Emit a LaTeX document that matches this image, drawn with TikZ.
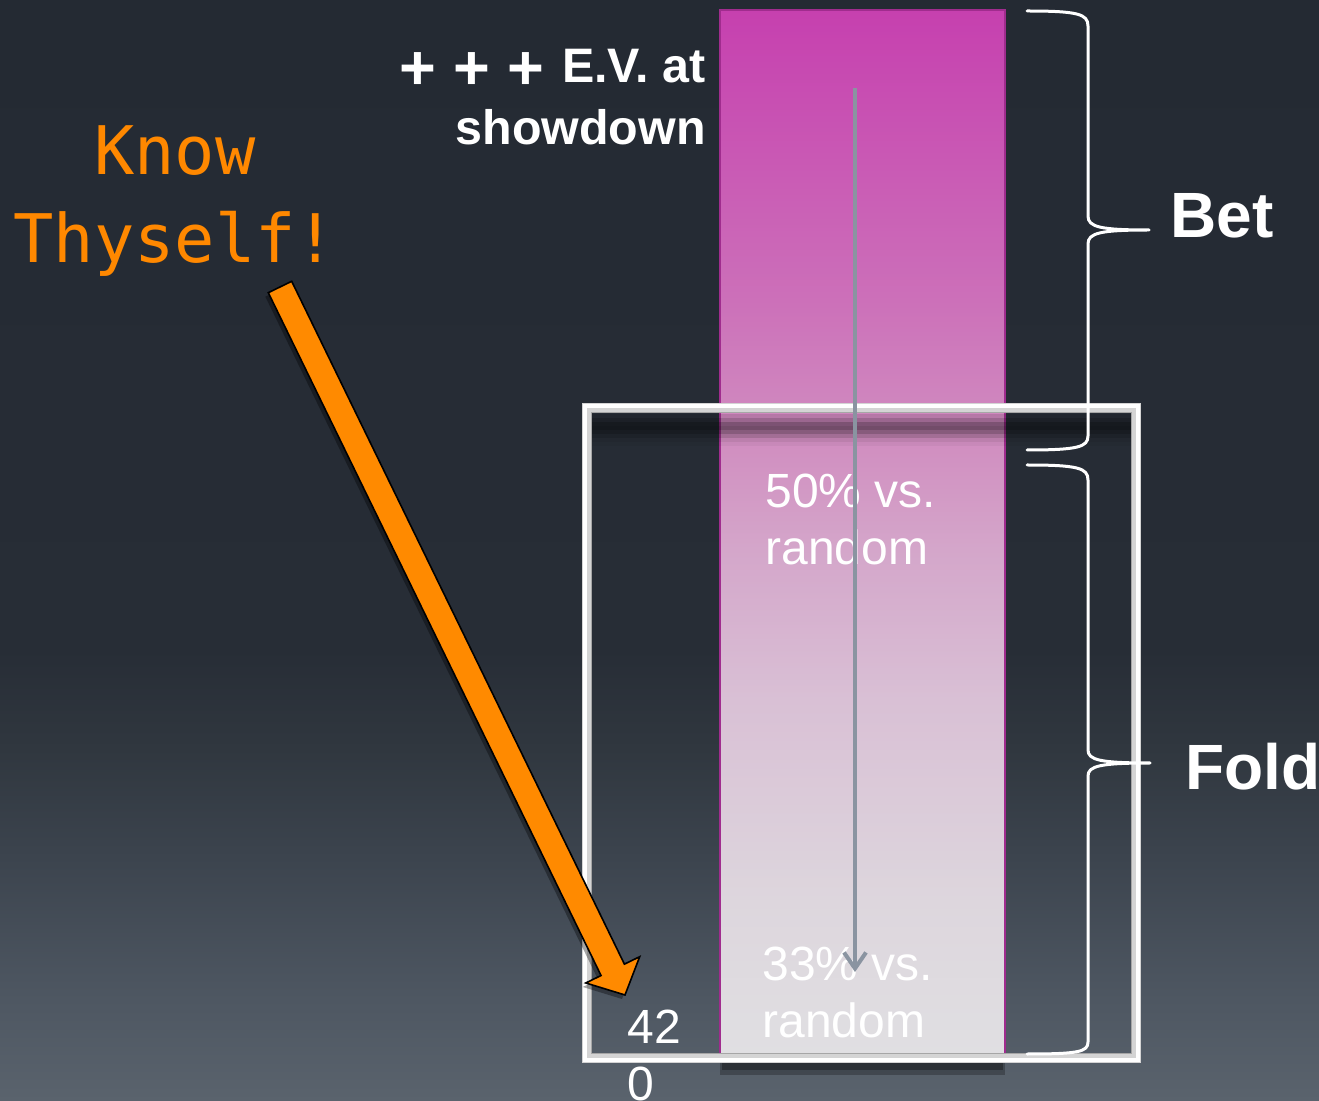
\documentclass[tikz,border=0pt]{standalone}
\usepackage{fontspec}
\setmainfont{Liberation Sans}
\newfontfamily\monofont{DejaVu Sans Mono}
\usetikzlibrary{arrows.meta,calc}
\definecolor{bgA}{HTML}{5A636D}
\definecolor{bgB}{HTML}{4E5762}
\definecolor{bgC}{HTML}{3B434D}
\definecolor{bgD}{HTML}{30373F}
\definecolor{bgE}{HTML}{272D36}
\definecolor{bgF}{HTML}{242A33}
\definecolor{brA}{HTML}{E0DFE2}
\definecolor{brB}{HTML}{DDD6DD}
\definecolor{brC}{HTML}{D9C0D5}
\definecolor{brD}{HTML}{D4A6CA}
\definecolor{brE}{HTML}{D190C1}
\definecolor{brF}{HTML}{CC70B9}
\definecolor{brG}{HTML}{C640AF}
\definecolor{barline}{HTML}{A02C8E}
\definecolor{framegray}{HTML}{D4D4D4}
\definecolor{arrowgray}{HTML}{8A94A1}
\definecolor{orangefill}{HTML}{FF8A00}
\definecolor{orangetext}{HTML}{FF8800}
\pgfdeclareverticalshading{bgshade}{100bp}{color(0bp)=(bgA); color(25bp)=(bgA); color(29.6bp)=(bgB); color(36.4bp)=(bgC); color(41bp)=(bgD); color(45.5bp)=(bgE); color(75bp)=(bgF); color(100bp)=(bgF)}
\pgfdeclareverticalshading{barshade}{100bp}{color(0bp)=(brA); color(25bp)=(brA); color(32.4bp)=(brB); color(42bp)=(brC); color(49.2bp)=(brD); color(53.9bp)=(brE); color(61.1bp)=(brF); color(75bp)=(brG); color(100bp)=(brG)}
\begin{document}
\begin{tikzpicture}[x=0.5pt,y=-0.5pt,
  lbl/.style={text=white,inner sep=0pt},
  bracepath/.style={draw=white,line width=1.5pt,line cap=round,line join=round},
  bigbold/.style={lbl,font=\bfseries\fontsize{32}{38}\selectfont},
  barlabel/.style={lbl,font=\fontsize{24}{28.5}\selectfont,align=left,anchor=base west},
  orangearrow/.style={fill=orangefill,draw=black,line width=0.8pt,line join=miter}]
\useasboundingbox (0,0) rectangle (1319,1101);
% background
\shade[shading=bgshade] (0,0) rectangle (1319,1101);
% bar shadow
\fill[black,opacity=0.25] (720,1056) rectangle (1005,1075);
\fill[black,opacity=0.3] (722,1056) rectangle (1003,1070);
% bar
\shade[shading=barshade] (720,10) rectangle (1005,1055);
\draw[barline,line width=0.6pt] (720,10) rectangle (1005,1055);
% shadow of the frame's top edge
\foreach \ya/\yb/\op in {414/418/0.12,418/422/0.25,422/426/0.4,426/430/0.45,430/434/0.35,434/438/0.22,438/442/0.1,442/446/0.04}{
  \fill[black,opacity=\op] (592,\ya) rectangle (1132,\yb);
}
% frame
\draw[framegray,line width=5pt] (587,408) rectangle (1136,1058);
\draw[white,line width=2.2pt] (585,406) rectangle (1138,1060);
\draw[gray!70,line width=0.5pt] (591.8,412.8) rectangle (1131.2,1053.2);
% texts in and around the bar (base anchor = baseline of the last line)
\node[lbl,font=\bfseries\fontsize{24.2}{31}\selectfont,align=right,anchor=base east] (ev) at (706,145)
  {\raisebox{-3.3pt}{\fontsize{31.5}{31}\selectfont + + +\ }E.V. at\\showdown};
\node[barlabel] (p50) at (765,565) {50\% vs.\\random};
\node[barlabel] (p33) at (762,1037) {33\% vs.\\random};
\node[barlabel] (n420) at (627,1100) {42\\0};
% centre arrow
\coordinate (gtop) at (855,88);
\coordinate (gbot) at (855,972);
\draw[arrowgray,line width=2pt,-{Straight Barb[length=8pt,width=11pt,line width=2pt]}] (gtop) -- (gbot);
% braces
\draw[bracepath] (1027,11) .. controls (1078,11) and (1088,14) .. (1088,26) -- (1088,216)
  .. controls (1088,227) and (1100,230) .. (1149,230)
  .. controls (1100,230) and (1088,233) .. (1088,244) -- (1088,436)
  .. controls (1088,447) and (1078,450) .. (1027,450);
\draw[bracepath] (1027,465) .. controls (1078,465) and (1088,468) .. (1088,480) -- (1088,750)
  .. controls (1088,760) and (1100,763) .. (1150,763)
  .. controls (1100,763) and (1088,766) .. (1088,776) -- (1088,1042)
  .. controls (1088,1052) and (1078,1054) .. (1027,1054);
\node[bigbold,anchor=base west] (bet) at (1170,238) {Bet};
\node[bigbold,anchor=base west] (fold) at (1185,790) {Fold};
% Know thyself
\node[inner sep=0pt,text=orangetext,font=\monofont\fontsize{33.5}{44}\selectfont,align=center,anchor=base] (know) at (175,263) {Know\\Thyself!};
% orange arrow
\coordinate (aS) at (280,287);
\coordinate (aT) at (625,995);
\coordinate (aB) at ($(aT)!14pt!(aS)$);
\fill[black,opacity=0.35,transform canvas={xshift=-1.5pt,yshift=-2pt}]
  ($(aS)!6.5pt!-90:(aT)$) -- ($(aB)!6.5pt!-90:(aT)$) -- ($(aB)!15pt!-90:(aT)$) -- (aT)
  -- ($(aB)!15pt!90:(aT)$) -- ($(aB)!6.5pt!90:(aT)$) -- ($(aS)!6.5pt!90:(aT)$) -- cycle;
\path[orangearrow]
  ($(aS)!6.5pt!-90:(aT)$) -- ($(aB)!6.5pt!-90:(aT)$) -- ($(aB)!15pt!-90:(aT)$) -- (aT)
  -- ($(aB)!15pt!90:(aT)$) -- ($(aB)!6.5pt!90:(aT)$) -- ($(aS)!6.5pt!90:(aT)$) -- cycle;
\end{tikzpicture}
\end{document}
